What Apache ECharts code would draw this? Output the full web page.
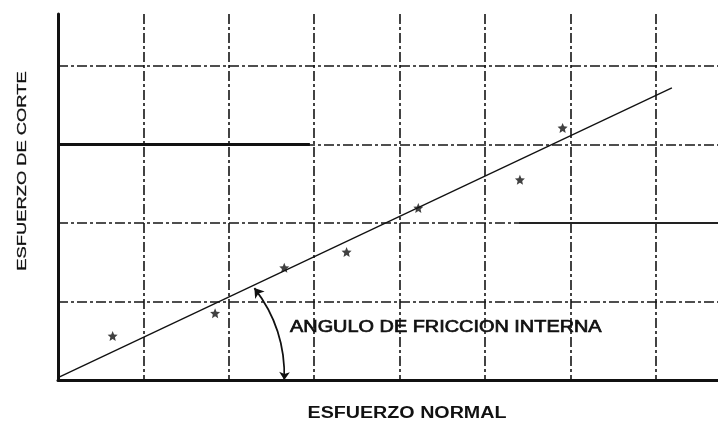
<!DOCTYPE html>
<html><head><meta charset="utf-8">
<script src="https://cdn.jsdelivr.net/npm/echarts@6/dist/echarts.min.js"></script>
<style>html,body{margin:0;padding:0;background:#fff}#c{width:718px;height:422px}</style>
</head><body><div id="c"></div>
<script>
// ---- data ----
const xTitle = 'ESFUERZO NORMAL';
const yTitle = 'ESFUERZO DE CORTE';
const angleLabel = 'ANGULO DE FRICCION INTERNA';
const pointsX = [0.64, 1.84, 2.65, 3.38, 4.22, 5.41, 5.91];
const pointsY = [0.56, 0.85, 1.43, 1.63, 2.19, 2.55, 3.21];
const fitX = [0, 7.19];
const fitY = [0.03, 3.72];
const arcFrom = [2.3, 1.17];
const arcTo = [2.65, 0];
const xMax = 7.73;
const yMax = 4.66;

// 5-armed asterisk symbol
function starPath() {
  let d = '';
  for (let i = 0; i < 10; i++) {
    const r = i % 2 === 0 ? 10 : 4.6;
    const a = -Math.PI / 2 + i * Math.PI / 5;
    d += (i === 0 ? 'M' : 'L') + (10 + r * Math.cos(a)).toFixed(2) + ' ' + (10 + r * Math.sin(a)).toFixed(2) + ' ';
  }
  return 'path://' + d + 'Z';
}

const chart = echarts.init(document.getElementById('c'), null, {renderer: 'canvas'});
const fontFam = '"Liberation Sans", Arial, sans-serif';
const gridLine = {color: '#151515', width: 1.6, type: [10, 3, 3, 3]};

chart.setOption({
  animation: false,
  backgroundColor: '#fff',
  grid: {left: 58, top: 14, right: 0, bottom: 42},
  xAxis: {
    type: 'value', min: 0, max: xMax, interval: 1,
    axisLine: {show: true, onZero: false, lineStyle: {color: '#111', width: 3}},
    axisTick: {show: false}, axisLabel: {show: false},
    splitLine: {show: true, showMinLine: false, showMaxLine: false, lineStyle: gridLine}
  },
  yAxis: {
    type: 'value', min: 0, max: yMax, interval: 1,
    axisLine: {show: true, onZero: false, lineStyle: {color: '#111', width: 3}},
    axisTick: {show: false}, axisLabel: {show: false},
    splitLine: {show: true, showMinLine: false, showMaxLine: false, lineStyle: gridLine}
  },
  series: [
    {
      type: 'line',
      data: fitX.map((x, i) => [x, fitY[i]]),
      symbol: 'none',
      lineStyle: {color: '#111', width: 1.3},
      z: 5,
      markLine: {
        silent: true, symbol: 'none', label: {show: false},
        data: [
          [{coord: [0, 3], lineStyle: {color: '#111', width: 2.8, type: 'solid'}}, {coord: [2.95, 3]}],
          [{coord: [5.4, 2], lineStyle: {color: '#222', width: 2, type: 'solid'}}, {coord: [xMax, 2]}]
        ]
      }
    },
    {
      type: 'scatter',
      data: pointsX.map((x, i) => [x, pointsY[i]]),
      symbol: starPath(),
      symbolSize: 10,
      itemStyle: {color: '#111'},
      z: 6
    },
    {
      type: 'lines',
      coordinateSystem: 'cartesian2d',
      data: [{coords: [arcFrom, arcTo]}],
      symbol: ['arrow', 'arrow'],
      symbolSize: [9, 8],
      lineStyle: {color: '#111', width: 1.7, curveness: 0.18, opacity: 1},
      z: 7
    }
  ],
  graphic: [
    {
      type: 'text', x: 22, y: 171, rotation: Math.PI / 2, scaleX: 1.41,
      style: {text: yTitle, font: '13px ' + fontFam, fill: '#111', stroke: '#111', lineWidth: 0.3, align: 'center', verticalAlign: 'middle'}
    },
    {
      type: 'text', x: 407, y: 414, scaleX: 1.23,
      style: {text: xTitle, font: 'bold 16px ' + fontFam, fill: '#111', align: 'center', verticalAlign: 'middle'}
    },
    {
      type: 'text', x: 290, y: 327, scaleX: 1.17, z: 10,
      style: {text: angleLabel, font: '17px ' + fontFam, fill: '#111', stroke: '#111', lineWidth: 0.7, align: 'left', verticalAlign: 'middle'}
    }
  ]
});
</script>
</body></html>
